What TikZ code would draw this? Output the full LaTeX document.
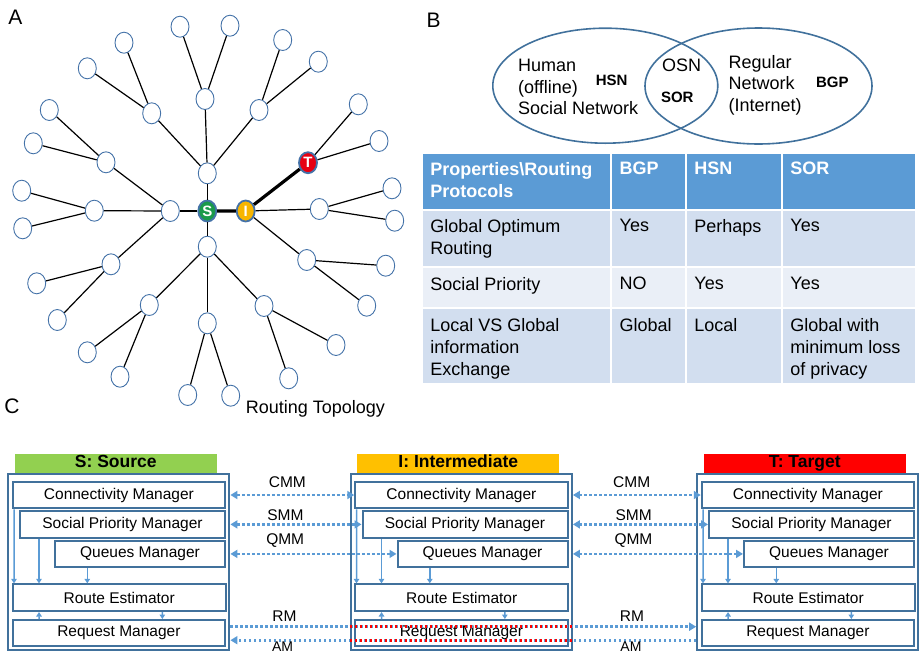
\documentclass[tikz,border=0pt]{standalone}
\usepackage{fontspec}
\setmainfont{Liberation Sans}
\usetikzlibrary{shapes.geometric, arrows.meta, positioning, calc}

\definecolor{nodeblue}{HTML}{4472A8}
\definecolor{boxblue}{HTML}{41719C}
\definecolor{flowblue}{HTML}{5B9BD5}
\definecolor{hdrblue}{HTML}{5B9BD5}
\definecolor{rowdark}{HTML}{D2DEEF}
\definecolor{rowlight}{HTML}{EAEFF7}
\definecolor{srcgreen}{HTML}{92D050}
\definecolor{midorange}{HTML}{FFC000}
\definecolor{tgtred}{HTML}{FF0000}
\definecolor{sgreen}{HTML}{1A9A4A}
\definecolor{iyellow}{HTML}{F7B500}
\definecolor{tred}{HTML}{E60012}

\newcommand{\fontbody}{\fontsize{18}{22}\selectfont}
\newcommand{\fontmod}{\fontsize{15.5}{18}\selectfont}

\begin{document}
\begin{tikzpicture}[
    x=1pt, y=-1pt,
    font=\fontbody,
    leaf/.style={ellipse, draw=nodeblue, fill=white, line width=0.9pt, minimum width=18pt, minimum height=21pt, inner sep=0pt},
    hub/.style={leaf, line width=1.8pt, text=white, font=\fontsize{15}{15}\selectfont\bfseries},
    edge/.style={line width=1.2pt},
    mainlink/.style={line width=3.2pt},
    venn/.style={ellipse, draw=boxblue, line width=1.6pt, inner sep=0pt},
    tag/.style={inner sep=0pt, font=\fontsize{15}{15}\selectfont\bfseries},
    cell/.style={rectangle, draw=white, line width=2pt, anchor=north west, inner sep=0pt, outer sep=0pt},
    celltxt/.style={anchor=north west, xshift=8.5pt, yshift=-9.5pt, align=left, inner sep=0pt},
    hdr/.style={text=white, font=\fontbody\bfseries},
    hostbox/.style={rectangle, draw=boxblue, line width=2.2pt, minimum width=221pt, minimum height=175.7pt},
    titlebar/.style={rectangle, inner sep=0pt, minimum width=201.7pt, minimum height=21pt, text height=12.5pt, text depth=7pt, font=\fontsize{17.5}{20}\selectfont\bfseries},
    module/.style={rectangle, draw=boxblue, line width=2pt, inner sep=0pt, font=\fontmod},
    flow/.style={-{Triangle[length=4.5pt,width=5.5pt]}, draw=flowblue, line width=1.5pt},
    msg/.style={draw=flowblue, line width=2.6pt, dash pattern=on 2.6pt off 2.4pt, >={Triangle[length=7pt,width=8pt]}},
    lbl/.style={font=\fontmod, inner sep=1pt},
    amlbl/.style={font=\fontsize{14}{14}\selectfont, inner sep=0pt, below=0pt}
]
\useasboundingbox (0,0) rectangle (919,654);

\node[inner sep=0pt, font=\fontsize{21}{21}\selectfont] (pa) at (15.5,17.5) {A};
\node[inner sep=0pt, font=\fontsize{21}{21}\selectfont] (pb) at (433.5,20) {B};
\node[inner sep=0pt, font=\fontsize{21}{21}\selectfont] (pc) at (12,406.5) {C};

\foreach \n/\x/\y in {u/207.3/173.3, l/170.3/211, d/207.3/246.7,
    u1/205/99, u2/151.7/113.3, u3/259/110,
    u11/180/26.7, u12/230/25.7, u21/124/42.7, u22/87.3/68.3, u31/282.7/40, u32/318.3/61.7,
    l1/106/162.3, l2/94.3/210.7, l3/111/264.3,
    l11/49.3/110, l12/33.3/143.3, l21/21.7/190.7, l22/22.7/228.3, l31/36.7/283.3, l32/57.3/320,
    d1/149.3/305, d2/207.3/323.3, d3/264/306,
    d11/87.3/352.3, d12/120/376.7, d21/187.7/395, d22/230.7/395.7, d31/336/345, d32/288.7/378.3,
    r1/319.3/209, r2/306.7/260,
    t1/358.3/104.3, t2/379/141, r11/392/188.3, r12/394.7/220.7, r21/385.7/265.7, r22/366.7/305.7}
    \node[leaf] (\n) at (\x,\y) {};

\node[hub, fill=sgreen] (s) at (207.3,211) {S};
\node[hub, fill=iyellow] (i) at (245.7,211) {I};
\node[hub, fill=tred] (t) at (308,162.7) {T};

\foreach \a/\b in {s/u, s/l, s/d, u/u1, u/u2, u/u3, u1/u11, u1/u12, u2/u21, u2/u22, u3/u31, u3/u32,
    l/l1, l/l2, l/l3, l1/l11, l1/l12, l2/l21, l2/l22, l3/l31, l3/l32,
    d/d1, d/d2, d/d3, d1/d11, d1/d12, d2/d21, d2/d22, d3/d31, d3/d32,
    i/r1, i/r2, r1/r11, r1/r12, r2/r21, r2/r22, t/t1, t/t2}
    \draw[edge] (\a) -- (\b);
\draw[mainlink] (s) -- (i) -- (t);

\node[anchor=base west, inner sep=0pt] (caption) at (245.7,413.3) {Routing Topology};

\node[venn, minimum width=225pt, minimum height=115pt] (human) at (605.3,85.7) {};
\node[venn, minimum width=227pt, minimum height=116pt] (inet) at (758.5,86) {};
\node[anchor=north west, align=left, inner sep=0pt, font=\fontsize{18}{21.5}\selectfont] (humantxt) at (518,59) {Human\\(offline)\\Social Network};
\node[tag] (hsn) at (611.7,80.3) {HSN};
\node[inner sep=0pt] (osn) at (681.7,65.5) {OSN};
\node[tag] (sor) at (677.3,97.3) {SOR};
\node[anchor=north west, align=left, inner sep=0pt, font=\fontsize{18}{21.7}\selectfont] (inettxt) at (728.3,55) {Regular\\Network\\(Internet)};
\node[tag] (bgp) at (832.3,82.3) {BGP};

\foreach \r/\y/\h/\col in {1/152.7/56.8/hdrblue, 2/209.5/57.8/rowdark, 3/267.3/41/rowlight, 4/308.3/75.7/rowdark}
    \foreach \c/\x/\w in {1/421.7/189.3, 2/611/74.7, 3/685.7/96, 4/781.7/134}
        \node[cell, fill=\col, minimum width=\w pt, minimum height=\h pt] (c\r\c) at (\x,\y) {};

\node[celltxt, hdr] at (c11.north west) {Properties\textbackslash Routing\\Protocols};
\node[celltxt, hdr] at (c12.north west) {BGP};
\node[celltxt, hdr] at (c13.north west) {HSN};
\node[celltxt, hdr] at (c14.north west) {SOR};
\node[celltxt] at (c21.north west) {Global Optimum\\Routing};
\node[celltxt] at (c22.north west) {Yes};
\node[celltxt] at (c23.north west) {Perhaps};
\node[celltxt] at (c24.north west) {Yes};
\node[celltxt] at (c31.north west) {Social Priority};
\node[celltxt] at (c32.north west) {NO};
\node[celltxt] at (c33.north west) {Yes};
\node[celltxt] at (c34.north west) {Yes};
\node[celltxt] at (c41.north west) {Local VS Global\\information\\Exchange};
\node[celltxt] at (c42.north west) {Global};
\node[celltxt] at (c43.north west) {Local};
\node[celltxt] at (c44.north west) {Global with\\minimum loss\\of privacy};

\foreach \p/\dx/\col/\name in {s/0/srcgreen/S: Source, i/342.5/midorange/I: Intermediate, t/689/tgtred/T: Target} {
    \begin{scope}[shift={(\dx,0)}]
    \node[titlebar, fill=\col] (\p head) at (115.8,464.5) {\name};
    \node[hostbox] (\p box) at (118.8,562.2) {};
    \node[module, minimum width=212.3pt, minimum height=26.6pt] (\p cm) at (118.9,495) {Connectivity Manager};
    \node[module, minimum width=205pt, minimum height=26.7pt] (\p spm) at (122.5,524.4) {Social Priority Manager};
    \node[module, minimum width=170pt, minimum height=25.7pt] (\p qm) at (140,553.9) {Queues Manager};
    \node[module, minimum width=213pt, minimum height=26.7pt] (\p re) at (119.2,597.7) {Route Estimator};
    \node[module, minimum width=212.3pt, minimum height=25.7pt] (\p rq) at (118.9,632.9) {Request Manager};
    \draw[flow] ([xshift=2.3pt]\p cm.south west) -- ([xshift=2.3pt]\p re.north west);
    \draw[flow] ([xshift=20pt]\p spm.south west) -- ([xshift=27.3pt]\p re.north west);
    \draw[flow] ([xshift=33.3pt]\p qm.south west) -- ([xshift=75.6pt]\p re.north west);
    \draw[flow] ([xshift=27.3pt]\p rq.north west) -- ([xshift=27.3pt]\p re.south west);
    \draw[flow] ([xshift=150.6pt]\p re.south west) -- ([xshift=150.6pt]\p rq.north west);
    \end{scope}
}

\draw[msg, <->] (sbox.east |- scm) -- node[lbl, above=5pt, pos=0.46] {CMM} (icm.west);
\draw[msg, <->] (sbox.east |- sspm) -- node[lbl, above=1.6pt, pos=0.42] {SMM} (ispm.west);
\draw[msg, <->] (sbox.east |- sqm) -- node[lbl, above=3.7pt, pos=0.33] {QMM} (iqm.west);
\draw[msg, <->] (ibox.east |- icm) -- node[lbl, above=5pt, pos=0.46] {CMM} (tcm.west);
\draw[msg, <->] (ibox.east |- ispm) -- node[lbl, above=1.6pt, pos=0.45] {SMM} (tspm.west);
\draw[msg, <->] (ibox.east |- iqm) -- node[lbl, above=3.7pt, pos=0.356] {QMM} (tqm.west);
\draw[msg, ->] ($(sbox.east |- srq)+(0,-6.2)$) -- node[lbl, above=3.4pt, pos=0.116] {RM} node[lbl, above=3.4pt, pos=0.862] {RM} ($(tbox.west |- srq)+(0,-6.2)$);
\draw[msg, ->] ($(tbox.west |- srq)+(0,7.3)$) -- node[amlbl, pos=0.14] {AM} node[amlbl, pos=0.888] {AM} ($(sbox.east |- srq)+(0,7.3)$);
\draw[msg, draw=tgtred] ($(ibox.west |- irq)+(0,-6.2)$) -- ($(ibox.east |- irq)+(0,-6.2)$);
\draw[msg, draw=tgtred] ($(ibox.west |- irq)+(0,7.3)$) -- ($(ibox.east |- irq)+(0,7.3)$);

\end{tikzpicture}
\end{document}
